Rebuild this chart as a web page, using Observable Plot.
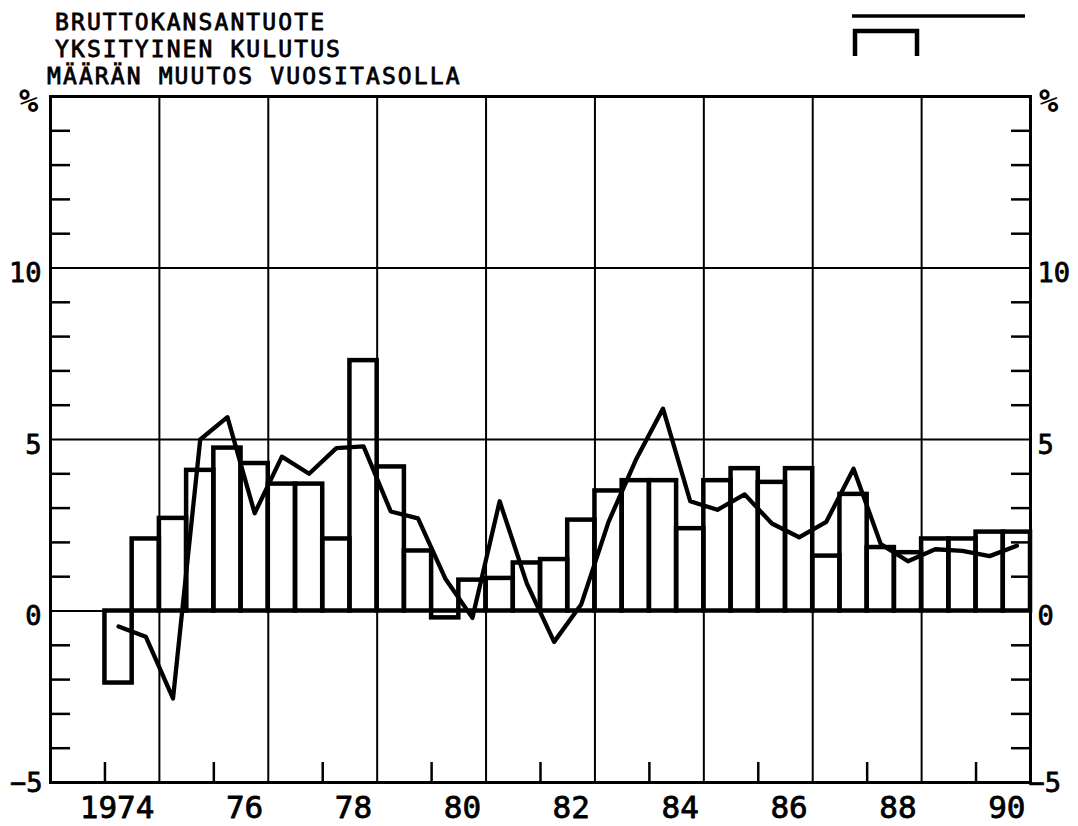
<!DOCTYPE html>
<html>
<head>
<meta charset="utf-8">
<script src="https://cdn.jsdelivr.net/npm/d3@7"></script>
<script src="https://cdn.jsdelivr.net/npm/@observablehq/plot@0.6"></script>
<style>
  html, body { margin: 0; padding: 0; background: #fff; }
  #wrap { position: relative; width: 1078px; height: 826px; overflow: hidden; }
  .t { position: absolute; font-family: "DejaVu Sans Mono", "Liberation Mono", monospace; font-size: 23px; letter-spacing: 2.1px; color: #000; white-space: pre; -webkit-text-stroke: 0.8px #000; line-height: normal; }
  #legend { position: absolute; left: 0; top: 0; }
  svg text { font-family: "DejaVu Sans Mono", "Liberation Mono", monospace; }
</style>
</head>
<body>
<div id="wrap">
  <div id="chart"></div>
  <div class="t" style="left:55px; top:9px;">BRUTTOKANSANTUOTE</div>
  <div class="t" style="left:55px; top:36px;">YKSITYINEN KULUTUS</div>
  <div class="t" style="left:47px; top:63px;">MÄÄRÄN MUUTOS VUOSITASOLLA</div>
  <svg id="legend" width="1078" height="70">
    <line x1="852" y1="16" x2="1025" y2="16" stroke="#000" stroke-width="3.5"/>
    <path d="M855,56 V31 H917 V56" fill="none" stroke="#000" stroke-width="4.5"/>
  </svg>
</div>
<script>
// Half-year periods 1974 H1 ... 1990 H2 (start of each half-year)
const periods = d3.range(1974, 1991, 0.5);

// Yksityinen kulutus (private consumption), % change, half-yearly (bars)
const consumption = [-2.1, 2.1, 2.7, 4.1, 4.75, 4.3, 3.7, 3.7, 2.1, 7.3, 4.2, 1.75,
  -0.2, 0.9, 0.95, 1.4, 1.5, 2.65, 3.5, 3.8, 3.8, 2.4, 3.8, 4.15,
  3.75, 4.15, 1.6, 3.4, 1.85, 1.7, 2.1, 2.1, 2.3, 2.3];

// Bruttokansantuote (GDP), % change, half-yearly (line)
const gdp = [-0.45, -0.75, -2.55, 5.0, 5.65, 2.85, 4.5, 4.0, 4.75, 4.8, 2.9, 2.7,
  0.95, -0.2, 3.2, 0.8, -0.9, 0.2, 2.6, 4.4, 5.9, 3.2, 2.95, 3.4,
  2.55, 2.15, 2.6, 4.15, 1.95, 1.45, 1.8, 1.75, 1.6, 1.9];

const tickYears = [1974, 1976, 1978, 1980, 1982, 1984, 1986, 1988, 1990];
const tickLabels = ["1974", "76", "78", "80", "82", "84", "86", "88", "90"];
const gridYears = [1975, 1977, 1979, 1981, 1983, 1985, 1987, 1989];
const gridValues = [0, 5, 10];
const yLabelValues = [0, 5, 10];
const yMinorTicks = [-4, -3, -2, -1, 1, 2, 3, 4, 6, 7, 8, 9, 11, 12, 13, 14];

const barData = periods.map((t, i) => ({t0: t, t1: t + 0.5, v: consumption[i]}));
const lineData = periods.map((t, i) => ({t: t + 0.25, v: gdp[i]}));
const xLab = tickYears.map((y, i) => ({x: y + 1, label: tickLabels[i]}));

const txt = {stroke: "black", strokeWidth: 0.8, fill: "black"};

const chart = Plot.plot({
  width: 1078,
  height: 826,
  marginLeft: 50,
  marginRight: 48,
  marginTop: 96,
  marginBottom: 44,
  x: {domain: [1973, 1991]},
  y: {domain: [-5, 15]},
  style: {background: "white", color: "black"},
  marks: [
    Plot.ruleX(gridYears, {stroke: "black", strokeWidth: 2}),
    Plot.ruleY(gridValues, {stroke: "black", strokeWidth: 2}),
    Plot.axisY(yMinorTicks, {anchor: "left", tickSize: 20, dx: 20, strokeWidth: 2.5, tickFormat: () => "", label: null}),
    Plot.axisY(yMinorTicks, {anchor: "right", tickSize: 20, dx: -20, strokeWidth: 2.5, tickFormat: () => "", label: null}),
    Plot.axisX(tickYears, {anchor: "bottom", tickSize: 20, dy: -20, strokeWidth: 2.5, tickFormat: () => "", label: null}),
    Plot.rect(barData, {x1: "t0", x2: "t1", y1: 0, y2: "v", fill: "none", stroke: "black", strokeWidth: 4.5}),
    Plot.line(lineData, {x: "t", y: "v", stroke: "black", strokeWidth: 4.3, strokeLinejoin: "round", strokeLinecap: "round"}),
    Plot.frame({stroke: "black", strokeWidth: 3}),
    // x labels
    Plot.text(xLab, {x: "x", text: "label", frameAnchor: "bottom", textAnchor: "end", lineAnchor: "bottom", dx: -5, dy: 35, fontSize: 31, ...txt}),
    // y labels left
    Plot.text(yLabelValues, {y: d => d, text: d => String(d), frameAnchor: "left", textAnchor: "end", lineAnchor: "bottom", dx: -9, dy: 14, fontSize: 27, ...txt}),
    Plot.text([-5], {y: d => d, text: () => "−5", frameAnchor: "left", textAnchor: "end", lineAnchor: "bottom", dx: -8, dy: 9, fontSize: 27, ...txt}),
    // y labels right
    Plot.text(yLabelValues, {y: d => d, text: d => String(d), frameAnchor: "right", textAnchor: "start", lineAnchor: "bottom", dx: 7, dy: 14, fontSize: 27, ...txt}),
    Plot.text([-5], {y: d => d, text: () => "−5", frameAnchor: "right", textAnchor: "start", lineAnchor: "bottom", dx: -2, dy: 9, fontSize: 27, ...txt}),
    // % unit labels
    Plot.text(["%"], {text: d => d, frameAnchor: "top-left", textAnchor: "middle", lineAnchor: "bottom", dx: -22, dy: 15, fontSize: 32, fontWeight: "bold", fill: "black"}),
    Plot.text(["%"], {text: d => d, frameAnchor: "top-right", textAnchor: "middle", lineAnchor: "bottom", dx: 18, dy: 15, fontSize: 32, fontWeight: "bold", fill: "black"})
  ]
});
document.getElementById("chart").appendChild(chart);
</script>
</body>
</html>
